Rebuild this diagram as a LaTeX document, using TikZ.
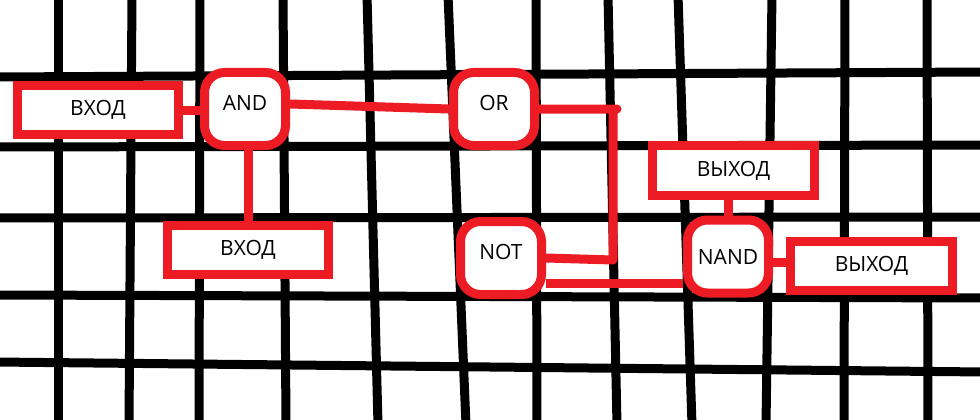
\documentclass[tikz,border=0pt]{standalone}
\usepackage{fontspec}
\setmainfont{Open Sans}
\definecolor{paintred}{RGB}{237,28,36}
\begin{document}
\begin{tikzpicture}[x=1pt,y=-1pt,
	gridline/.style={line width=9pt,black},
	wire/.style={line width=9pt,paintred},
	port/.style={draw=paintred,line width=9pt,fill=white,inner sep=0pt,minimum width=161pt,minimum height=49pt,font=\fontsize{21pt}{25pt}\selectfont},
	gate/.style={port,minimum width=81pt,minimum height=73pt,rounded corners=20pt,text height=15pt,text depth=12pt}]
	\useasboundingbox (0,0) rectangle (980,420);
	% hand drawn grid
	\foreach \a/\b in {58/58,132/129,200/199,283/286,367/378,448/466,536/537,608/617,678/692,772/766,845/844,927/928}
		\draw[gridline] (\a,-5) -- (\b,425);
	\foreach \a/\b in {77/72,147/145,218/217,295/298,362/372}
		\draw[gridline] (-5,\a) -- (985,\b);
	% blocks
	\node[port] (inL) at (98,110) {ВХОД};
	\node[gate] (and) at (245,109) {AND};
	\node[port] (inB) at (248,250) {ВХОД};
	\node[gate] (or) at (494,109) {OR};
	\node[gate] (not) at (501,258) {NOT};
	\node[gate,text depth=0pt] (nand) at (728,256.5) {NAND};
	\node[port,minimum width=162pt,minimum height=50pt] (outT) at (733.5,170.5) {ВЫХОД};
	\node[port,minimum width=162pt] (outR) at (871.5,266) {ВЫХОД};
	\coordinate (bend) at (613,260);
	% wires
	\draw[wire] (inL.east) -- (inL.east -| and.west);
	\draw[wire] ([yshift=5pt]and.east) -- (or.west);
	\draw[wire] (inB.north |- and.south) -- (inB.north);
	\draw[wire,line cap=round,line join=round] (or.east) -- ([xshift=4pt]or.east -| bend) (or.east -| bend) -- (bend) -- (not.east);
	\draw[wire] ([yshift=-25pt]not.east) -- ([yshift=-25pt]not.east -| nand.west);
	\draw[wire] (nand.north) -- (nand.north |- outT.south);
	\draw[wire] ([yshift=-6pt]nand.east) -- ([yshift=-6pt]nand.east -| outR.west);
\end{tikzpicture}
\end{document}
